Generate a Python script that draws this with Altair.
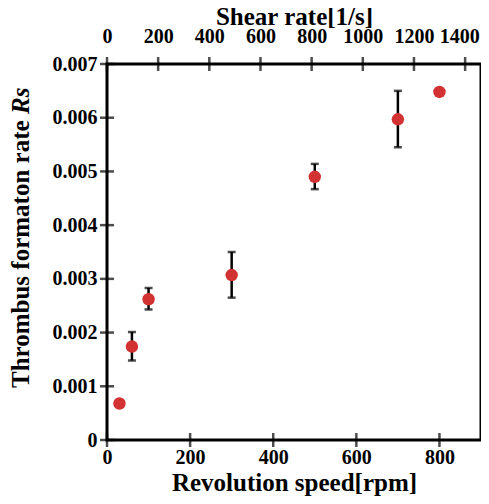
import altair as alt
import pandas as pd

# Data
rpm = [30, 60, 100, 300, 500, 700, 800]
rs = [0.00068, 0.00174, 0.00262, 0.00307, 0.00490, 0.00597, 0.00648]
err_lo = [None, 0.00148, 0.00243, 0.00265, 0.00467, 0.00545, None]
err_hi = [None, 0.00201, 0.00283, 0.00350, 0.00514, 0.00650, None]

rpm_ticks = [0, 200, 400, 600, 800]
rpm_domain = [0, 900]
rs_ticks = [0, 0.001, 0.002, 0.003, 0.004, 0.005, 0.006, 0.007]
rs_domain = [0, 0.007]
shear_ticks = [0, 200, 400, 600, 800, 1000, 1200, 1400]
shear_domain = [0, 1462]

x_title = "Revolution speed[rpm]"
top_title = "Shear rate[1/s]"
y_title_main = "Thrombus formaton rate"
y_title_ital = "Rs"

FONT = "Liberation Serif"
RED = "#d33232"
W, H = 374, 376
TICK = 7

df = pd.DataFrame({"rpm": rpm, "rs": rs, "lo": err_lo, "hi": err_hi})
df_err = df.dropna().copy()
df_xt = pd.DataFrame({"v": rpm_ticks})
df_yt = pd.DataFrame({"v": rs_ticks})
df_st = pd.DataFrame({"shear": shear_ticks})

x_scale = alt.Scale(domain=rpm_domain, nice=False, zero=False)
y_scale = alt.Scale(domain=rs_domain, nice=False)
s_scale = alt.Scale(domain=shear_domain, nice=False)

common = dict(
    domain=False, grid=False, ticks=False,
    labelFont=FONT, labelFontSize=20, labelFontWeight="bold", labelColor="black",
    titleFont=FONT, titleFontSize=25, titleFontWeight="bold", titleColor="black",
    labelFlush=False, labelOverlap=False,
)

x_axis = alt.Axis(values=rpm_ticks, title=x_title, orient="bottom",
                  labelPadding=7, titlePadding=3, format="d", **common)
y_axis = alt.Axis(values=rs_ticks, title=None, orient="left",
                  labelPadding=10, format="~g", **common)
top_axis = alt.Axis(values=shear_ticks, title=top_title, orient="top",
                    labelPadding=18, titlePadding=-3, format="d",
                    labelOffset={"condition": {"test": "datum.value >= 1400", "value": -6}, "value": 0},
                    **common)

X = alt.X("rpm:Q", scale=x_scale, axis=x_axis)

stems = alt.Chart(df_err).mark_rule(color="black", strokeWidth=2.5).encode(
    x=X, y=alt.Y("lo:Q", scale=y_scale, axis=y_axis), y2="hi:Q",
)
cap_lo = alt.Chart(df_err).mark_tick(color="black", orient="horizontal", size=8, thickness=2.5).encode(
    x=X, y=alt.Y("lo:Q", scale=y_scale, axis=y_axis),
)
cap_hi = alt.Chart(df_err).mark_tick(color="black", orient="horizontal", size=8, thickness=2.5).encode(
    x=X, y=alt.Y("hi:Q", scale=y_scale, axis=y_axis),
)
points = alt.Chart(df).mark_circle(size=155, color=RED, opacity=1).encode(
    x=X, y=alt.Y("rs:Q", scale=y_scale, axis=y_axis),
)
# inward ticks on the bottom and left edges
xticks = alt.Chart(df_xt).mark_tick(color="black", orient="vertical", size=2 * TICK, thickness=2.5).encode(
    x=alt.X("v:Q", scale=x_scale, axis=x_axis),
    y=alt.value(H),
)
yticks = alt.Chart(df_yt).mark_tick(color="black", orient="horizontal", size=2 * TICK, thickness=2.5).encode(
    y=alt.Y("v:Q", scale=y_scale, axis=y_axis),
    x=alt.value(0),
)

main = alt.layer(stems, cap_lo, cap_hi, points, xticks, yticks)

shear_layer = alt.Chart(df_st).mark_tick(color="black", orient="vertical", size=2 * TICK, thickness=2.5).encode(
    x=alt.X("shear:Q", scale=s_scale, axis=top_axis),
    y=alt.value(0),
)

ytitle_df = pd.DataFrame({"t": [y_title_main], "u": [y_title_ital]})
ytitle_main = alt.Chart(ytitle_df).mark_text(
    angle=270, align="left", baseline="alphabetic", font=FONT, fontSize=25,
    fontWeight="bold", color="black",
).encode(text="t:N", x=alt.value(-78), y=alt.value(324))
ytitle_ital = alt.Chart(ytitle_df).mark_text(
    angle=270, align="left", baseline="alphabetic", font=FONT, fontSize=25,
    fontWeight="bold", fontStyle="italic", color="black",
).encode(text="u:N", x=alt.value(-78), y=alt.value(50))

chart = alt.layer(main, shear_layer, ytitle_main, ytitle_ital).resolve_scale(
    x="independent"
).properties(
    width=W, height=H,
    autosize=alt.AutoSizeParams(type="none"),
    padding={"left": 99, "top": 56, "right": 0, "bottom": 56},
    background="white",
).configure_view(
    stroke="black", strokeWidth=3
)

chart.save("out.html", embed_options={"renderer": "svg", "actions": False})
